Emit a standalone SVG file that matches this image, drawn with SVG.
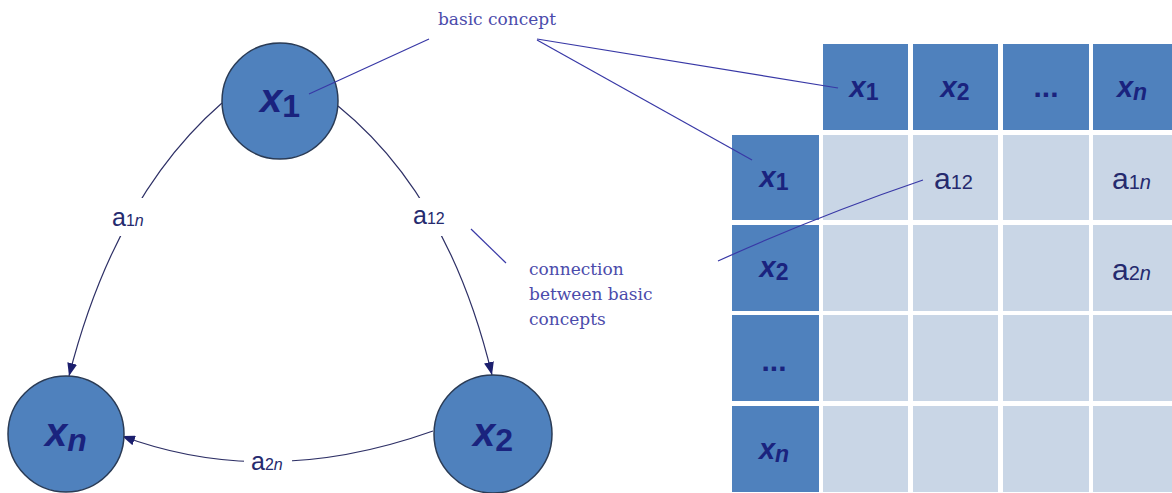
<svg xmlns="http://www.w3.org/2000/svg" width="1172" height="493" viewBox="0 0 1172 493">
  <style>
    .node { fill: #4f81bd; stroke: #2a3b55; stroke-width: 1.5; }
    .cell-dark { fill: #4f81bd; }
    .cell-light { fill: #c9d6e6; }
    .var { font-family: "Liberation Sans", Arial, sans-serif; font-weight: bold; font-style: italic; fill: #1a237e; }
    .sub { font-style: normal; }
    .subi { font-style: italic; }
    .dots { font-family: "Liberation Sans", Arial, sans-serif; font-weight: bold; fill: #1a237e; }
    .coef { font-family: "Liberation Sans", Arial, sans-serif; fill: #252a6e; }
    .edge { fill: none; stroke: #2e3066; stroke-width: 1.2; }
    .gap { fill: #ffffff; }
    .note { font-family: "DejaVu Serif", "Liberation Serif", serif; font-size: 17px; fill: #4b4bab; }
    .pointer { fill: none; stroke: #3838a6; stroke-width: 1.2; }
  </style>
  <defs>
    <marker id="arrow" markerUnits="userSpaceOnUse" markerWidth="14" markerHeight="10" refX="13" refY="5" orient="auto">
      <path d="M0,0 L13,5 L0,10 z" fill="#1c1f6e"/>
    </marker>
  </defs>

  <rect width="1172" height="493" fill="#ffffff"/>

  <!-- graph edges, with white gaps behind their labels -->
  <g id="connectors">
    <path class="edge" d="M222,103 Q115,196 69,376" marker-end="url(#arrow)"/>
    <path class="edge" d="M338,106 Q449,196 492,375" marker-end="url(#arrow)"/>
    <path class="edge" d="M433,431 Q267,490 122,436" marker-end="url(#arrow)"/>
    <rect class="gap" x="108" y="198" width="44" height="38"/>
    <rect class="gap" x="408" y="198" width="38" height="38"/>
    <rect class="gap" x="244" y="450" width="48" height="26"/>
    <text class="coef" x="112" y="226" font-size="25">a<tspan font-size="16">1<tspan font-style="italic">n</tspan></tspan></text>
    <text class="coef" x="413" y="224" font-size="25">a<tspan font-size="16">12</tspan></text>
    <text class="coef" x="251" y="470" font-size="25">a<tspan font-size="16">2<tspan font-style="italic">n</tspan></tspan></text>
  </g>

  <!-- graph nodes -->
  <g id="node-x1">
    <circle class="node" cx="280" cy="101" r="58"/>
    <text class="var" x="280" y="112" text-anchor="middle" font-size="40">x<tspan class="sub" font-size="32" dy="5">1</tspan></text>
  </g>
  <g id="node-x2">
    <circle class="node" cx="493" cy="434" r="59"/>
    <text class="var" x="493" y="446" text-anchor="middle" font-size="40">x<tspan class="sub" font-size="32" dy="5">2</tspan></text>
  </g>
  <g id="node-xn">
    <circle class="node" cx="66" cy="434" r="58"/>
    <text class="var" x="66" y="446" text-anchor="middle" font-size="40">x<tspan class="subi" font-size="32" dy="5">n</tspan></text>
  </g>

  <!-- adjacency matrix -->
  <g id="matrix">
    <!-- header row -->
    <rect class="cell-dark" x="823" y="44" width="85" height="86"/>
    <rect class="cell-dark" x="913" y="44" width="85" height="86"/>
    <rect class="cell-dark" x="1003" y="44" width="86" height="86"/>
    <rect class="cell-dark" x="1093" y="44" width="86" height="86"/>
    <!-- row headers -->
    <rect class="cell-dark" x="732" y="135" width="87" height="85"/>
    <rect class="cell-dark" x="732" y="225" width="87" height="86"/>
    <rect class="cell-dark" x="732" y="315" width="87" height="86"/>
    <rect class="cell-dark" x="732" y="406" width="87" height="86"/>
    <!-- body -->
    <g class="cell-light">
      <rect x="823" y="135" width="85" height="85"/>
      <rect x="913" y="135" width="85" height="85"/>
      <rect x="1003" y="135" width="86" height="85"/>
      <rect x="1093" y="135" width="86" height="85"/>
      <rect x="823" y="225" width="85" height="86"/>
      <rect x="913" y="225" width="85" height="86"/>
      <rect x="1003" y="225" width="86" height="86"/>
      <rect x="1093" y="225" width="86" height="86"/>
      <rect x="823" y="315" width="85" height="86"/>
      <rect x="913" y="315" width="85" height="86"/>
      <rect x="1003" y="315" width="86" height="86"/>
      <rect x="1093" y="315" width="86" height="86"/>
      <rect x="823" y="406" width="85" height="86"/>
      <rect x="913" y="406" width="85" height="86"/>
      <rect x="1003" y="406" width="86" height="86"/>
      <rect x="1093" y="406" width="86" height="86"/>
    </g>
    <!-- header labels -->
    <text class="var" x="864" y="97" text-anchor="middle" font-size="29">x<tspan class="sub" font-size="23" dy="3">1</tspan></text>
    <text class="var" x="955" y="97" text-anchor="middle" font-size="29">x<tspan class="sub" font-size="23" dy="3">2</tspan></text>
    <text class="dots" x="1046" y="97" text-anchor="middle" font-size="30">...</text>
    <text class="var" x="1132" y="97" text-anchor="middle" font-size="29">x<tspan class="subi" font-size="23" dy="3">n</tspan></text>
    <!-- row labels -->
    <text class="var" x="774" y="187" text-anchor="middle" font-size="29">x<tspan class="sub" font-size="23" dy="3">1</tspan></text>
    <text class="var" x="774" y="277" text-anchor="middle" font-size="29">x<tspan class="sub" font-size="23" dy="3">2</tspan></text>
    <text class="dots" x="774" y="371" text-anchor="middle" font-size="30">...</text>
    <text class="var" x="774" y="459" text-anchor="middle" font-size="29">x<tspan class="subi" font-size="23" dy="3">n</tspan></text>
    <!-- coefficients -->
    <text class="coef" x="934" y="189" font-size="30">a<tspan font-size="20">12</tspan></text>
    <text class="coef" x="1112" y="189" font-size="30">a<tspan font-size="20">1<tspan font-style="italic">n</tspan></tspan></text>
    <text class="coef" x="1112" y="280" font-size="30">a<tspan font-size="20">2<tspan font-style="italic">n</tspan></tspan></text>
  </g>

  <!-- annotations -->
  <g id="note-basic-concept">
    <text class="note" x="497" y="25" text-anchor="middle">basic concept</text>
    <path class="pointer" d="M429,39 L309,94"/>
    <path class="pointer" d="M537,39 L838,88"/>
    <path class="pointer" d="M537,40 L752,160"/>
  </g>
  <g id="note-connection">
    <text class="note" x="529" y="275" font-size="18">connection</text>
    <text class="note" x="529" y="300" font-size="18">between basic</text>
    <text class="note" x="529" y="325" font-size="18">concepts</text>
    <path class="pointer" d="M471,229 L506,263"/>
    <path class="pointer" d="M923,180 Q820,215 718,261"/>
  </g>
</svg>
